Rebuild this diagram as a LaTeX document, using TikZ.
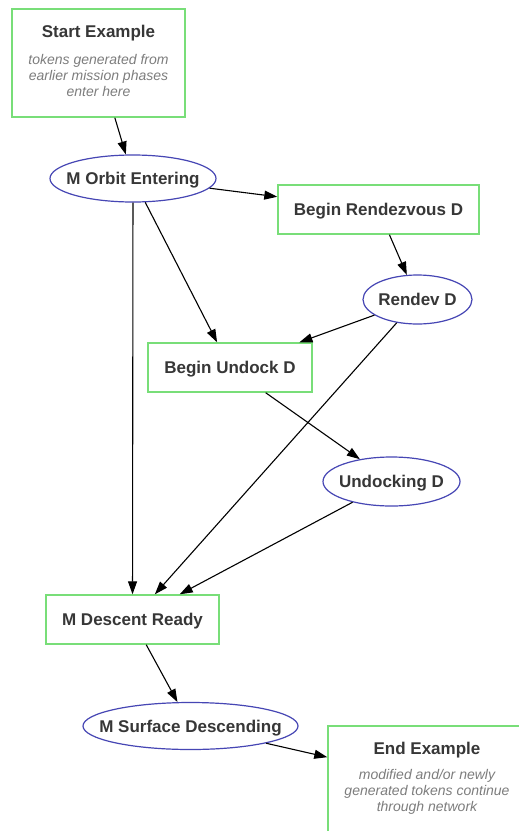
\documentclass[tikz,border=0pt]{standalone}
\usepackage{fontspec}
\setmainfont{Liberation Sans}
\usetikzlibrary{shapes.geometric,arrows.meta}
\definecolor{boxgreen}{RGB}{120,222,120}
\definecolor{ovalblue}{RGB}{70,70,180}
\definecolor{labelgray}{RGB}{55,55,55}
\definecolor{notegray}{RGB}{125,125,125}
\begin{document}
\begin{tikzpicture}[x=1pt,y=-1pt,
  statebox/.style={draw=boxgreen,line width=1.4pt,fill=white,rectangle,inner sep=0pt,
    font=\fontsize{17}{20}\selectfont\bfseries,text=labelgray,text height=12.2pt,text depth=0pt},
  oval/.style={draw=ovalblue,line width=1.2pt,fill=white,ellipse,inner sep=0pt},
  title/.style={font=\fontsize{17}{20}\selectfont\bfseries,text=labelgray,inner sep=0pt,
    text height=12.2pt,text depth=0pt},
  note/.style={font=\fontsize{14}{15.8}\selectfont\itshape,text=notegray,align=center,inner sep=0pt},
  flow/.style={-{Triangle[length=13pt,width=9pt]},line width=1.1pt,black}]
\useasboundingbox (0,0) rectangle (519,831);
\fill[white] (0,0) rectangle (519,831);
\begin{scope}
\clip (0,0) rectangle (519,831);

% boxes and ovals
\node[statebox,minimum width=173pt,minimum height=108pt] (start) at (98.5,63) {};
\node[title] (start-title) at (98.5,31) {Start Example};
\node[note] (start-note) at (98.5,75.5) {tokens generated from\\earlier mission phases\\enter here};

\node[oval,minimum width=166pt,minimum height=47pt,label={[title,name=orbit-t]center:M Orbit Entering}] (orbit) at (133,178.5) {};
\node[statebox,minimum width=201pt,minimum height=49pt] (rdv) at (378.5,209.5) {Begin Rendezvous D};
\node[oval,minimum width=109pt,minimum height=49pt,label={[title,name=rendev-t]center:Rendev D}] (rendev) at (417.5,299.5) {};
\node[statebox,minimum width=164pt,minimum height=49pt] (undock) at (230,367.5) {Begin Undock D};
\node[oval,minimum width=137pt,minimum height=49pt,label={[title,name=undocking-t]center:Undocking D}] (undocking) at (391.5,481.5) {};
\node[statebox,minimum width=173pt,minimum height=49pt] (descent) at (132.5,619.5) {M Descent Ready};
\node[oval,minimum width=215pt,minimum height=47pt,label={[title,name=surface-t]center:M Surface Descending}] (surface) at (190.5,726) {};

\node[statebox,minimum width=200pt,minimum height=108pt] (end) at (428,780) {};
\node[title] (end-title) at (427,748) {End Example};
\node[note] (end-note) at (427,792) {modified and/or newly\\generated tokens continue\\through network};

% connectors
\draw[flow] (start) -- (orbit);
\draw[flow] (orbit) -- (rdv);
\draw[flow] (orbit) -- (undock);
\draw[flow] (orbit) -- (descent);
\draw[flow] (rdv) -- (rendev);
\draw[flow] (rendev) -- (undock);
\draw[flow] (rendev) -- (descent);
\draw[flow] (undock) -- (undocking);
\draw[flow] (undocking) -- (descent);
\draw[flow] (descent) -- (surface);
\draw[flow] (surface) -- (end);
\end{scope}
\end{tikzpicture}
\end{document}
